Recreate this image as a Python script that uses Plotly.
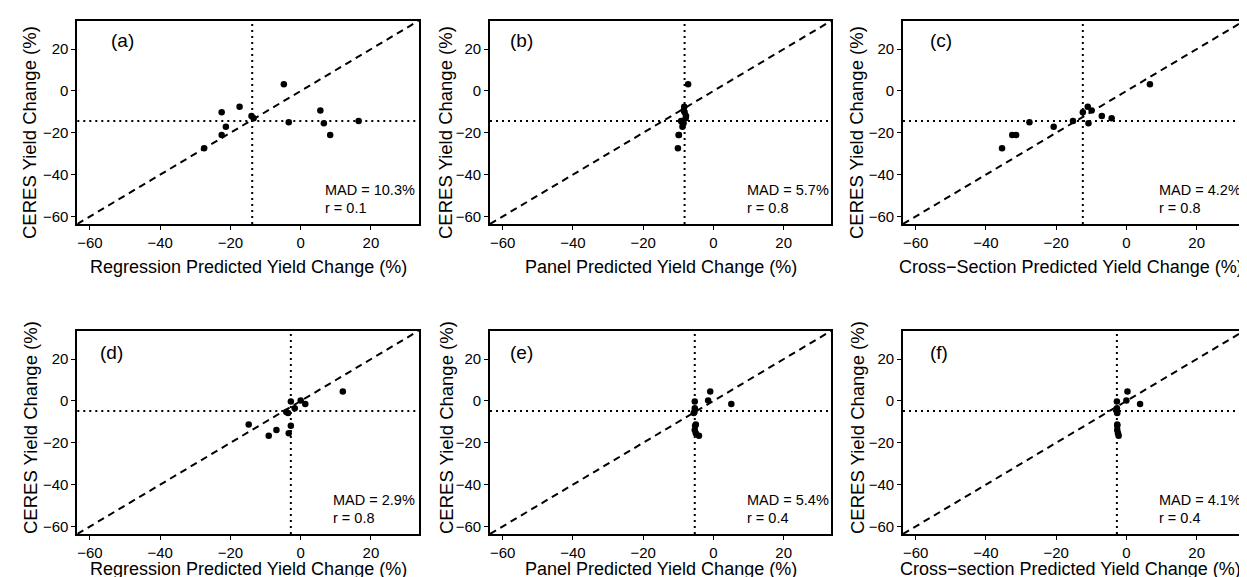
import plotly.graph_objects as go

# ---------------- data ----------------
ceres_row1 = [3.2, -7.5, -9.3, -10.2, -12.0, -13.0, -14.4, -14.9, -15.4, -17.1, -21.1, -21.1, -27.4]
regression_a = [-4.8, -17.4, 5.6, -22.5, -14.0, -13.4, 16.5, -3.4, 6.6, -21.3, -22.5, 8.4, -27.5]
panel_b = [-7.2, -8.3, -8.4, -8.2, -7.8, -7.9, -9.2, -8.9, -8.5, -8.8, -9.8, -9.9, -10.1]
cross_c = [6.7, -11.0, -9.9, -12.4, -7.0, -4.2, -15.2, -27.6, -10.8, -20.7, -32.5, -31.4, -35.4]

ceres_row2 = [4.5, 0.2, -0.3, -1.4, -3.5, -5.3, -5.8, -11.2, -11.8, -13.9, -15.4, -16.6]
regression_d = [12.0, 0.0, -2.8, 1.3, -1.7, -4.1, -3.6, -14.8, -2.8, -6.9, -3.4, -9.1]
panel_e = [-0.9, -1.5, -5.3, 5.1, -5.3, -5.4, -5.6, -5.0, -5.2, -5.3, -5.0, -4.1]
cross_f = [0.3, 0.0, -2.7, 3.9, -2.7, -2.7, -2.6, -2.6, -2.6, -2.6, -2.4, -2.2]

vline_x = [-13.8, -8.2, -12.4, -2.8, -5.3, -2.7]
hline_y = [-14.3, -14.3, -14.3, -4.8, -4.8, -4.8]

panel_labels = ["(a)", "(b)", "(c)", "(d)", "(e)", "(f)"]
label_x = [-54.6, -58.5, -56.5, -57.6, -58.5, -56.5]
mad_text = ["MAD = 10.3%", "MAD = 5.7%", "MAD = 4.2%", "MAD = 2.9%", "MAD = 5.4%", "MAD = 4.1%"]
r_text = ["r = 0.1", "r = 0.8", "r = 0.8", "r = 0.8", "r = 0.4", "r = 0.4"]
mad_x = [6.4, 9.0, 8.7, 8.7, 9.0, 8.7]
x_titles = ["Regression Predicted Yield Change (%)", "Panel Predicted Yield Change (%)",
            "Cross\u2212Section Predicted Yield Change (%)", "Regression Predicted Yield Change (%)",
            "Panel Predicted Yield Change (%)", "Cross\u2212section Predicted Yield Change (%)"]
y_title = "CERES Yield Change (%)"
tick_vals = [-60, -40, -20, 0, 20]
axis_range = [-63.6, 33.6]

xs = [regression_a, panel_b, cross_c, regression_d, panel_e, cross_f]
ys = [ceres_row1, ceres_row1, ceres_row1, ceres_row2, ceres_row2, ceres_row2]

# ---------------- layout geometry (pixels) ----------------
W, H = 1247, 577
col_left = [69.3, 482.0, 895.0]
pw = 341.4
row_top = [12.7, 322.7]
ph = 203.3
ytitle_x = [22, 438, 849]
ytitle_y = [125, 420]
xtitle_y = [259, 561]
xtitle_dx = [0, 0, -3]

FONT = "Liberation Sans, Arial, Helvetica, sans-serif"

fig = go.Figure()
annotations = []
shapes = []
layout = {}

for i in range(6):
    r, c = divmod(i, 3)
    n = i + 1
    xa = "xaxis" if n == 1 else f"xaxis{n}"
    ya = "yaxis" if n == 1 else f"yaxis{n}"
    xr = "x" if n == 1 else f"x{n}"
    yr = "y" if n == 1 else f"y{n}"
    x0 = col_left[c] / W
    x1 = (col_left[c] + pw) / W
    y1 = 1 - row_top[r] / H
    y0 = 1 - (row_top[r] + ph) / H
    common = dict(range=axis_range, tickvals=tick_vals, showgrid=False, zeroline=False,
                  showline=True, linecolor="black", linewidth=1.8, mirror=True,
                  ticks="outside", ticklen=4, tickwidth=1, tickcolor="black",
                  tickfont=dict(family=FONT, size=15, color="black"))
    layout[xa] = dict(domain=[x0, x1], anchor=yr, **common)
    layout[ya] = dict(domain=[y0, y1], anchor=xr, **common)

    # 1:1 dashed line
    fig.add_trace(go.Scatter(x=axis_range, y=axis_range, mode="lines", xaxis=xr, yaxis=yr,
                             line=dict(color="black", width=2, dash="7px,5px"),
                             hoverinfo="skip", cliponaxis=True))
    # dotted reference lines
    shapes.append(dict(type="line", xref=f"{xr} domain", yref=yr, x0=0, x1=1,
                       y0=hline_y[i], y1=hline_y[i],
                       line=dict(color="black", width=2, dash="2px,4px")))
    shapes.append(dict(type="line", xref=xr, yref=f"{yr} domain", x0=vline_x[i], x1=vline_x[i],
                       y0=0, y1=1, line=dict(color="black", width=2, dash="2px,4px")))
    # points
    fig.add_trace(go.Scatter(x=xs[i], y=ys[i], mode="markers", xaxis=xr, yaxis=yr,
                             marker=dict(color="black", size=6.5, symbol="circle")))

    # panel label
    annotations.append(dict(text=panel_labels[i], x=label_x[i], y=24 if r == 0 else 23,
                            xref=xr, yref=yr, xanchor="left", yanchor="middle", showarrow=False,
                            font=dict(family=FONT, size=19, color="black")))
    annotations.append(dict(text=mad_text[i], x=mad_x[i], y=-47.5, xref=xr, yref=yr,
                            xanchor="left", yanchor="middle", showarrow=False,
                            font=dict(family=FONT, size=14.5, color="black")))
    annotations.append(dict(text=r_text[i], x=mad_x[i], y=-55.9, xref=xr, yref=yr,
                            xanchor="left", yanchor="middle", showarrow=False,
                            font=dict(family=FONT, size=14.5, color="black")))
    # axis titles
    annotations.append(dict(text=x_titles[i], x=(col_left[c] + pw / 2 + xtitle_dx[c]) / W,
                            y=1 - xtitle_y[r] / H,
                            xref="paper", yref="paper", xanchor="center", yanchor="middle",
                            showarrow=False, font=dict(family=FONT, size=18, color="black")))
    annotations.append(dict(text=y_title, x=ytitle_x[c] / W, y=1 - ytitle_y[r] / H,
                            xref="paper", yref="paper", xanchor="center", yanchor="middle",
                            textangle=-90, showarrow=False,
                            font=dict(family=FONT, size=18.5, color="black")))

fig.update_layout(width=W, height=H, margin=dict(l=0, r=0, t=0, b=0),
                  plot_bgcolor="white", paper_bgcolor="white", showlegend=False,
                  annotations=annotations, shapes=shapes, **layout)

fig.write_html("out.html")
